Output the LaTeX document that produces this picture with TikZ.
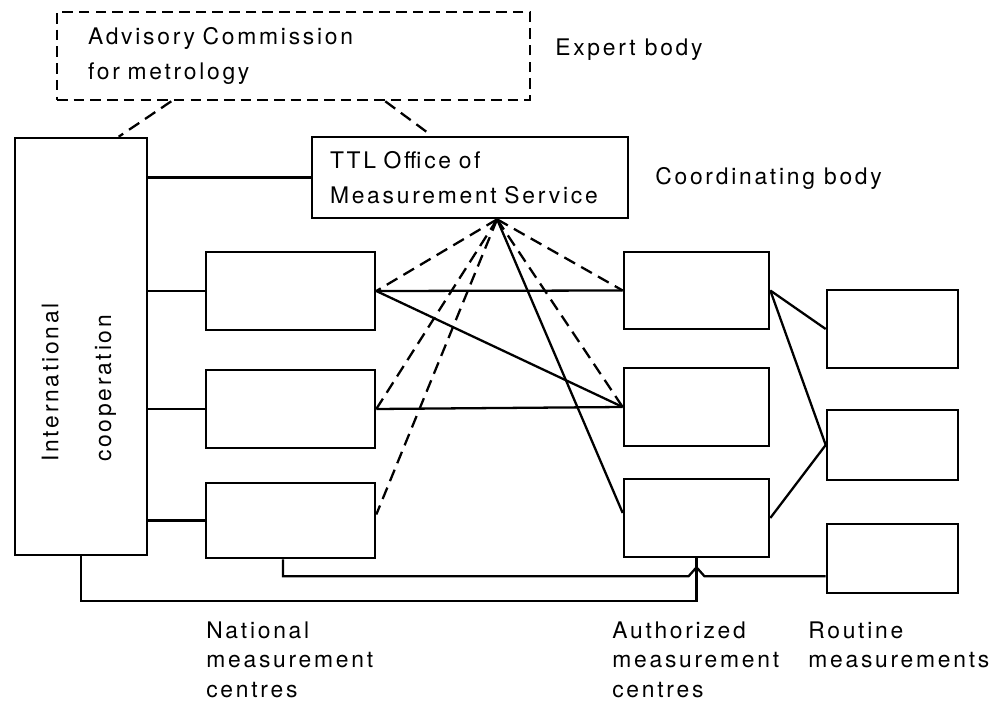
\documentclass[tikz,border=0pt]{standalone}
\usepackage{fontspec}
\setmainfont{TeX Gyre Heros}[LetterSpace=12]
\usepackage{tikz}
\usetikzlibrary{calc}

\begin{document}
\begin{tikzpicture}[x=0.02cm,y=-0.02cm,
		box/.style={draw, line width=1.5pt, inner sep=0pt},
		txt/.style={font=\fontsize{13}{20}\selectfont, inner sep=0pt, align=left},
		lbl/.style={font=\fontsize{13}{17}\selectfont, inner sep=0pt, align=left, anchor=north west},
		link/.style={line width=1.3pt},
		dlink/.style={line width=1.3pt, dash pattern=on 7pt off 4pt},
		nbox/.style={box, minimum width=3.38cm, minimum height=1.56cm},
		abox/.style={box, minimum width=2.9cm, minimum height=1.56cm},
		rbox/.style={box, minimum width=2.62cm, minimum height=1.4cm}]
		\useasboundingbox (0,0) rectangle (1004,702);
		\node[box, dash pattern=on 6pt off 3.5pt, minimum width=9.46cm, minimum height=1.76cm, txt, inner xsep=0.62cm, text width=8.22cm] (adv) at (293.5,56) {Advisory Commission\\for metrology};
		\node[box, minimum width=2.64cm, minimum height=8.34cm] (intl) at (81,346.5) {};
		\node[txt, rotate=90, anchor=west] (coop) at (79,462) {International\\[10pt]cooperation};
		\node[box, minimum width=6.32cm, minimum height=1.62cm, txt, inner xsep=0.36cm, text width=5.6cm] (ttl) at (470,177.5) {TTL Office of\\Measurement Service};
		\node[nbox] (n1) at (290.5,291) {};
		\node[nbox] (n2) at (290.5,409) {};
		\node[nbox, minimum height=1.5cm] (n3) at (290.5,520.5) {};
		\node[abox, minimum height=1.54cm] (a1) at (696.5,290.5) {};
		\node[abox] (a2) at (696.5,407) {};
		\node[abox] (a3) at (696.5,518) {};
		\node[rbox, minimum height=1.56cm] (r1) at (892.5,329) {};
		\node[rbox] (r2) at (892.5,445) {};
		\node[rbox, minimum height=1.38cm] (r3) at (892.5,558.5) {};
		\node[txt, anchor=west] (expert) at (555,50) {Expert body};
		\node[txt, anchor=west] (coord) at (655,178) {Coordinating body};
		\node[lbl] (natl) at (206,621) {National\\measurement\\centres};
		\node[lbl] (auth) at (612,621) {Authorized\\measurement\\centres};
		\node[lbl] (rout) at (808,621) {Routine\\measurements};
		\coordinate (hub) at ($(ttl.south west)!0.585!(ttl.south east)$);
		\coordinate (n3b) at ($(n3.south west)!0.456!(n3.south east)$);
		\coordinate (hop) at ($(a3.south)+(0,18)$);
		\draw[dlink] ($(adv.south west)!0.243!(adv.south east)$) -- ($(intl.north west)!0.78!(intl.north east)$);
		\draw[dlink] ($(adv.south west)!0.693!(adv.south east)$) -- ($(ttl.north west)!0.38!(ttl.north east)$);
		\draw[link] (ttl.west) -- (ttl.west -| intl.east);
		\draw[link] (n1.west) -- (n1.west -| intl.east);
		\draw[link] (n2.west) -- (n2.west -| intl.east);
		\draw[link] (n3.west) -- (n3.west -| intl.east);
		\draw[dlink] (hub) -- (n1.east);
		\draw[dlink] (hub) -- (n2.east);
		\draw[dlink] (hub) -- ($(n3.east)+(0,-6)$);
		\draw[dlink] (hub) -- (a1.west);
		\draw[dlink] (hub) -- (a2.west);
		\draw[link] (hub) -- ($(a3.west)+(0,-5)$);
		\draw[link] (n1.east) -- (a1.west);
		\draw[link] (n1.east) -- (a2.west);
		\draw[link] (n2.east) -- (a2.west);
		\draw[link] (a1.east) -- (r1.west);
		\draw[link] (a1.east) -- (r2.west);
		\draw[link] (a3.east) -- (r2.west);
		\draw[link] (intl.south) -- ++(0,45) -| (a3.south);
		\draw[link] (n3b) |- ($(hop)+(-8,0)$) -- ($(hop)+(0,-9)$) -- ($(hop)+(8,0)$) -- (hop -| r3.west);
\end{tikzpicture}
\end{document}
